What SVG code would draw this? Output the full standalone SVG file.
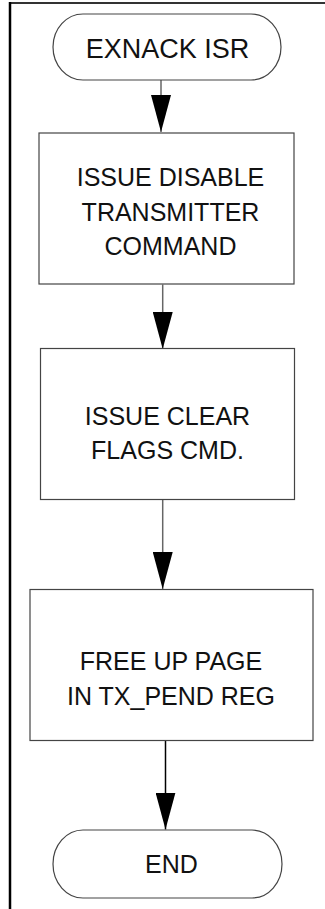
<svg xmlns="http://www.w3.org/2000/svg" width="325" height="909" viewBox="0 0 325 909">
<style>
.shape{fill:#fff;stroke:#444;stroke-width:1.2}
.lbl{font-family:"Liberation Sans",Arial,sans-serif;font-size:25px;fill:#111;text-anchor:middle}
.conn{stroke:#666;stroke-width:1.5;fill:none;marker-end:url(#ah)}
</style>
<defs>
<marker id="ah" markerUnits="userSpaceOnUse" markerWidth="38" markerHeight="20" refX="37" refY="10" orient="auto" viewBox="0 0 38 20">
<path d="M0,0 L37,10 L0,20 Z" fill="#000"/>
</marker>
</defs>
<rect width="325" height="909" fill="#fff"/>
<g id="frame">
<line x1="10" y1="3" x2="325" y2="3" stroke="#333" stroke-width="2"/>
<line x1="10" y1="2" x2="10" y2="909" stroke="#000" stroke-width="2.5"/>
</g>
<g id="connectors">
<line class="conn" x1="161" y1="80" x2="161" y2="132"/>
<line class="conn" x1="162.7" y1="284.5" x2="162.7" y2="349"/>
<line class="conn" x1="162.7" y1="500" x2="162.7" y2="589"/>
<line class="conn" x1="165.5" y1="741" x2="165.5" y2="829.5" style="stroke:#000"/>
</g>
<g id="start">
<path class="shape" d="M83,14 H251 A30,33 0 0 1 251,80 H83 A30,33 0 0 1 83,14 Z"/>
<text class="lbl" x="167.5" y="58" style="font-size:27px">EXNACK ISR</text>
</g>
<g id="disable">
<rect class="shape" x="39" y="133" width="255" height="151"/>
<text class="lbl" x="170.5" y="185.5">ISSUE DISABLE</text>
<text class="lbl" x="170.5" y="220.5">TRANSMITTER</text>
<text class="lbl" x="170.5" y="254.5">COMMAND</text>
</g>
<g id="clear">
<rect class="shape" x="40.5" y="348.5" width="254" height="151"/>
<text class="lbl" x="167.5" y="425">ISSUE CLEAR</text>
<text class="lbl" x="167.5" y="458.5">FLAGS CMD.</text>
</g>
<g id="free">
<rect class="shape" x="30" y="589.5" width="283" height="151"/>
<text class="lbl" x="171" y="670">FREE UP PAGE</text>
<text class="lbl" x="171" y="705">IN TX_PEND REG</text>
</g>
<g id="end">
<path class="shape" d="M83,830 H252 A30,34 0 0 1 252,898 H83 A30,34 0 0 1 83,830 Z"/>
<text class="lbl" x="171.5" y="873">END</text>
</g>
</svg>
